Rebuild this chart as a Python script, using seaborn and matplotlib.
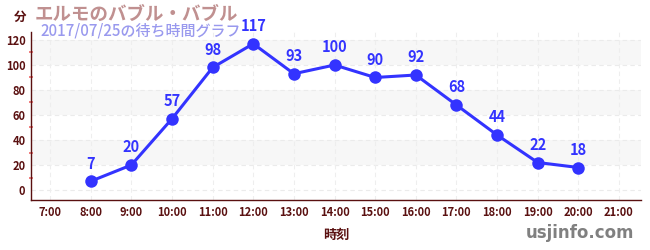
import matplotlib
matplotlib.use("Agg")
import matplotlib.pyplot as plt
import seaborn as sns
import pandas as pd

hours = [8, 9, 10, 11, 12, 13, 14, 15, 16, 17, 18, 19, 20]
waits = [7, 20, 57, 98, 117, 93, 100, 90, 92, 68, 44, 22, 18]
tick_hours = list(range(7, 22))
tick_labels = [f"{h}:00" for h in tick_hours]
title = "エルモのバブル・バブル"
subtitle = "2017/07/25の待ち時間グラフ"

sns.set_theme(style="white")
plt.rcParams['font.family'] = ['Noto Sans CJK JP', 'DejaVu Sans']

df = pd.DataFrame({"hour": hours, "wait": waits})

fig = plt.figure(figsize=(6.5, 2.5), dpi=100)
ax = fig.add_axes([0.0477, 0.2, 0.9383, 0.67])

dark = "#5a1010"
line_c = "#3333ff"

for lo in (20, 60, 100):
    ax.axhspan(lo, lo + 20, color="#f7f7f7", zorder=0, lw=0)
for y in range(0, 121, 20):
    ax.axhline(y, color="#ebebeb", lw=0.8, ls=(0, (4, 3)), zorder=0.5)
for h in tick_hours:
    ax.axvline(h, color="#eeeeee", lw=0.8, ls=(0, (4, 3)), zorder=0.5)

sns.lineplot(data=df, x="hour", y="wait", ax=ax, color=line_c, lw=2.2,
             marker="o", markersize=9, markeredgewidth=0, zorder=3)

for h, w in zip(hours, waits):
    ax.annotate(str(w), (h, w), xytext=(0, 7), textcoords="offset points",
                ha="center", va="bottom", color=line_c, fontsize=10.5,
                fontweight="bold")

ax.set_xlim(6.53, 21.54)
ax.set_ylim(-8, 126)
ax.set_xticks(tick_hours)
ax.set_xticklabels(tick_labels)
ax.set_yticks(range(0, 121, 20))
ax.set_yticks(range(10, 120, 20), minor=True)
ax.tick_params(axis="both", which="major", labelsize=8, colors=dark,
               length=4, width=0.8, direction="inout", pad=2)
ax.tick_params(axis="y", which="minor", length=3, width=1.2,
               color="#ee6666", direction="inout", left=True)
for lab in ax.get_xticklabels() + ax.get_yticklabels():
    lab.set_fontweight("bold")
ax.set_xlabel("時刻", color=dark, fontsize=9.5, fontweight="bold", labelpad=7)
ax.set_ylabel("")

for s in ("top", "right"):
    ax.spines[s].set_visible(False)
for s in ("left", "bottom"):
    ax.spines[s].set_color(dark)
    ax.spines[s].set_linewidth(1.0)

fig.text(20 / 650, 1 - 17 / 250, "分", color=dark, fontsize=9,
         fontweight="bold", ha="center", va="center")
fig.text(35 / 650, 1 - 14 / 250, title, color="#c09090", fontsize=13.3,
         fontweight="bold", ha="left", va="center")
fig.text(40 / 650, 1 - 31 / 250, subtitle, color="#9999ee", fontsize=10.8,
         fontweight="medium", ha="left", va="center")
fig.text(634 / 650, 1 - 233 / 250, "usjinfo.com", color="#808080",
         fontsize=12, fontweight="bold", ha="right", va="center",
         family=["DejaVu Sans"])

fig.savefig("out.png", dpi=100)
